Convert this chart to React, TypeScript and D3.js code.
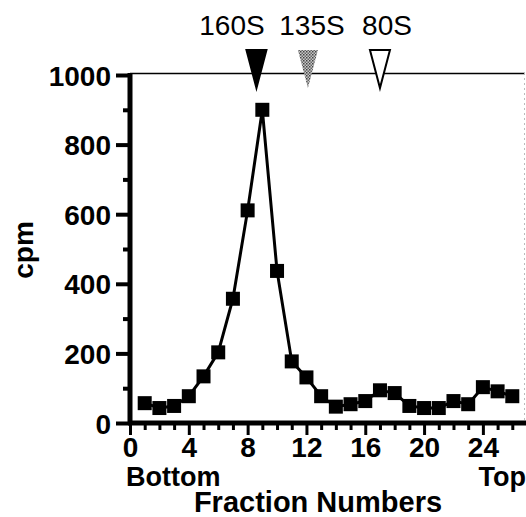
import React, { useRef, useEffect } from "react";
import * as d3 from "d3";

// fraction numbers and counts read from the gradient profile
const fractions = [1, 2, 3, 4, 5, 6, 7, 8, 9, 10, 11, 12, 13, 14, 15, 16, 17, 18, 19, 20, 21, 22, 23, 24, 25, 26];
const cpm = [57, 43, 49, 77, 134, 203, 357, 611, 900, 437, 177, 131, 77, 47, 54, 63, 94, 86, 49, 43, 43, 63, 54, 103, 91, 77];

// sedimentation markers
const markerNames = ["160S", "135S", "80S"];
const markerFractions = [8.6, 12.1, 17];
const markerFills = ["#000", "url(#stipple)", "#fff"];

const xTicks = [0, 4, 8, 12, 16, 20, 24];
const yTicks = [0, 200, 400, 600, 800, 1000];

const App = () => {
  const chartRef = useRef<HTMLDivElement>(null);

  useEffect(() => {
    const width = 526;
    const height = 517;
    const font = "'Liberation Sans', Arial, sans-serif";

    const root = d3.select(chartRef.current);
    root.selectAll("*").remove();

    const svg = root
      .append("svg")
      .attr("width", width)
      .attr("height", height)
      .style("position", "absolute")
      .style("left", 0)
      .style("top", 0)
      .style("background", "#fff");

    // stippled grey fill for the 135S marker
    const pat = svg
      .append("defs")
      .append("pattern")
      .attr("id", "stipple")
      .attr("width", 3)
      .attr("height", 3)
      .attr("patternUnits", "userSpaceOnUse");
    pat.append("rect").attr("width", 3).attr("height", 3).attr("fill", "#c8c8c8");
    pat.append("rect").attr("width", 1.5).attr("height", 1.5).attr("fill", "#444");
    pat.append("rect").attr("x", 1.5).attr("y", 1.5).attr("width", 1.5).attr("height", 1.5).attr("fill", "#666");

    const xScale = d3.scaleLinear().domain([0, 27]).range([130, 527]);
    const yScale = d3.scaleLinear().domain([0, 1000]).range([423, 75]);

    // frame top and right
    svg
      .append("line")
      .attr("x1", xScale(0))
      .attr("x2", 525)
      .attr("y1", 73.5)
      .attr("y2", 73.5)
      .attr("stroke", "#000")
      .attr("stroke-width", 1.5);
    svg
      .append("line")
      .attr("x1", 524.5)
      .attr("x2", 524.5)
      .attr("y1", 73)
      .attr("y2", yScale(0))
      .attr("stroke", "#bbb")
      .attr("stroke-width", 1)
      .attr("stroke-dasharray", "2,3");

    // y axis
    const yAxis = d3
      .axisLeft(yScale)
      .tickValues(yTicks)
      .tickSize(14)
      .tickPadding(5)
      .tickFormat(d3.format("d"));
    const yMinor = d3.axisLeft(yScale).tickValues(d3.range(100, 1000, 200)).tickSize(7).tickFormat(() => "");
    const gy = svg.append("g").attr("transform", `translate(${xScale(0)},0)`).call(yAxis);
    svg.append("g").attr("transform", `translate(${xScale(0)},0)`).call(yMinor);
    svg.selectAll(".domain").remove();
    gy.selectAll("text")
      .attr("font-family", font)
      .attr("font-weight", "bold")
      .attr("font-size", 28)
      .attr("dy", "0.36em")
      .attr("fill", "#000");
    svg.selectAll(".tick line").attr("stroke", "#000").attr("stroke-width", 4);

    // x axis
    const xAxis = d3.axisBottom(xScale).tickValues(xTicks).tickSize(12).tickPadding(2);
    const xMinor = d3
      .axisBottom(xScale)
      .tickValues(d3.range(1, 27).filter((d) => d % 4 !== 0))
      .tickSize(7)
      .tickFormat(() => "");
    const gx = svg.append("g").attr("transform", `translate(0,${yScale(0)})`).call(xAxis);
    const gxm = svg.append("g").attr("transform", `translate(0,${yScale(0)})`).call(xMinor);
    gx.select(".domain").remove();
    gxm.select(".domain").remove();
    gx.selectAll("text")
      .attr("font-family", font)
      .attr("font-weight", "bold")
      .attr("font-size", 28)
      .attr("fill", "#000");
    gx.selectAll(".tick line").attr("stroke", "#000").attr("stroke-width", 3);
    gxm.selectAll(".tick line").attr("stroke", "#000").attr("stroke-width", 3);

    // thick axis lines
    svg
      .append("line")
      .attr("x1", xScale(0))
      .attr("x2", xScale(0))
      .attr("y1", yScale(1000) - 2)
      .attr("y2", yScale(0) + 2)
      .attr("stroke", "#000")
      .attr("stroke-width", 5);
    svg
      .append("line")
      .attr("x1", xScale(0) - 2)
      .attr("x2", 526)
      .attr("y1", yScale(0))
      .attr("y2", yScale(0))
      .attr("stroke", "#000")
      .attr("stroke-width", 5);

    // profile line
    const line = d3
      .line<number>()
      .x((d, i) => xScale(fractions[i]))
      .y((d) => yScale(d));
    svg
      .append("path")
      .datum(cpm)
      .attr("d", line)
      .attr("fill", "none")
      .attr("stroke", "#000")
      .attr("stroke-width", 3);

    const sq = 14;
    svg
      .selectAll("rect.pt")
      .data(cpm)
      .enter()
      .append("rect")
      .attr("class", "pt")
      .attr("x", (d, i) => xScale(fractions[i]) - sq / 2)
      .attr("y", (d) => yScale(d) - sq / 2)
      .attr("width", sq)
      .attr("height", sq)
      .attr("fill", "#000");

    // sedimentation markers
    const triW = 20;
    const triTop = 50;
    const triTip = 88;
    markerFractions.forEach((f, i) => {
      const cx = xScale(f);
      svg
        .append("path")
        .attr("d", `M${cx - triW / 2},${triTop} L${cx + triW / 2},${triTop} L${cx},${triTip} Z`)
        .attr("fill", markerFills[i])
        .attr("stroke", "#000")
        .attr("stroke-width", i === 1 ? 0 : 2);
    });
    const labelX = [232, 312, 387];
    markerNames.forEach((name, i) => {
      svg
        .append("text")
        .attr("x", labelX[i])
        .attr("y", 35)
        .attr("text-anchor", "middle")
        .attr("font-family", font)
        .attr("font-size", 28)
        .text(name);
    });

    // axis titles
    svg
      .append("text")
      .attr("x", 126)
      .attr("y", 486)
      .attr("font-family", font)
      .attr("font-weight", "bold")
      .attr("font-size", 27)
      .text("Bottom");
    svg
      .append("text")
      .attr("x", 526)
      .attr("y", 486)
      .attr("text-anchor", "end")
      .attr("font-family", font)
      .attr("font-weight", "bold")
      .attr("font-size", 27)
      .text("Top");
    svg
      .append("text")
      .attr("x", 318)
      .attr("y", 512)
      .attr("text-anchor", "middle")
      .attr("font-family", font)
      .attr("font-weight", "bold")
      .attr("font-size", 29)
      .text("Fraction Numbers");
    svg
      .append("text")
      .attr("transform", "translate(33,250) rotate(-90)")
      .attr("text-anchor", "middle")
      .attr("font-family", font)
      .attr("font-weight", "bold")
      .attr("font-size", 28)
      .text("cpm");
  }, []);

  return <div ref={chartRef}></div>;
};

export default App;
